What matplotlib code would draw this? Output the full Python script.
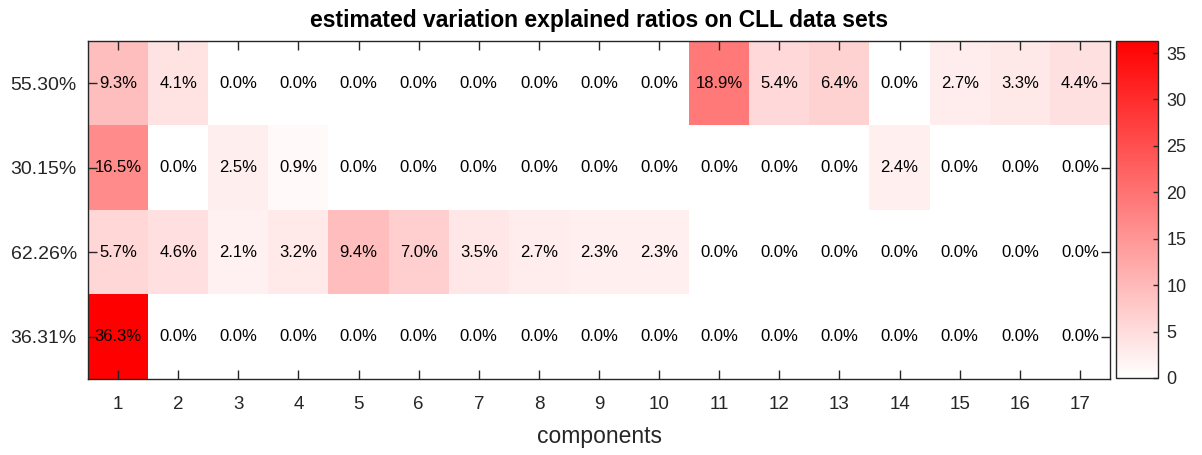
import matplotlib
matplotlib.use("Agg")
import matplotlib.pyplot as plt
import numpy as np
from matplotlib.colors import LinearSegmentedColormap

plt.rcParams['font.family'] = ['Liberation Sans', 'DejaVu Sans']

# data (percent explained per component)
row_labels = ["55.30%", "30.15%", "62.26%", "36.31%"]
components = list(range(1, 18))
row1 = [9.3, 4.1, 0.0, 0.0, 0.0, 0.0, 0.0, 0.0, 0.0, 0.0, 18.9, 5.4, 6.4, 0.0, 2.7, 3.3, 4.4]
row2 = [16.5, 0.0, 2.5, 0.9, 0.0, 0.0, 0.0, 0.0, 0.0, 0.0, 0.0, 0.0, 0.0, 2.4, 0.0, 0.0, 0.0]
row3 = [5.7, 4.6, 2.1, 3.2, 9.4, 7.0, 3.5, 2.7, 2.3, 2.3, 0.0, 0.0, 0.0, 0.0, 0.0, 0.0, 0.0]
row4 = [36.3, 0.0, 0.0, 0.0, 0.0, 0.0, 0.0, 0.0, 0.0, 0.0, 0.0, 0.0, 0.0, 0.0, 0.0, 0.0, 0.0]
cbar_ticks = [0, 5, 10, 15, 20, 25, 30, 35]

vals = np.array([row1, row2, row3, row4])
edge = '#262626'

cmap = LinearSegmentedColormap.from_list('wr', ['#ffffff', '#ff0000'])

fig = plt.figure(figsize=(12.02, 4.55), dpi=100)
ax = fig.add_axes([88 / 1202, 1 - 379 / 455, 1022 / 1202, 338 / 455])
cax = fig.add_axes([1116 / 1202, 1 - 378 / 455, 42 / 1202, 337 / 455])

im = ax.imshow(vals, cmap=cmap, vmin=0, vmax=vals.max(), aspect='auto',
               interpolation='nearest',
               extent=(0.5, len(components) + 0.5, len(row_labels) + 0.5, 0.5))

for i in range(vals.shape[0]):
    for j in range(vals.shape[1]):
        ax.text(components[j], i + 1, "%.1f%%" % vals[i, j], ha='center', va='center',
                fontsize=12, color='black', zorder=5)

ax.set_xticks(components)
ax.set_xticklabels([str(c) for c in components])
ax.set_yticks(range(1, len(row_labels) + 1))
ax.set_yticklabels(row_labels)
ax.tick_params(direction='in', length=6.5, width=1, color=edge, labelcolor=edge,
               top=True, right=True)
ax.tick_params(axis='x', labelsize=13.5, pad=12)
ax.tick_params(axis='y', labelsize=14, pad=8)
for s in ax.spines.values():
    s.set_color(edge)
    s.set_linewidth(1)

ax.set_title("estimated variation explained ratios on CLL data sets",
             fontsize=16.5, fontweight='bold', pad=10)
ax.set_xlabel("components", fontsize=16.5, color=edge, labelpad=9)

cb = fig.colorbar(im, cax=cax, ticks=cbar_ticks)
cb.outline.set_edgecolor(edge)
cb.outline.set_linewidth(1)
cax.tick_params(direction='in', length=3.5, width=1, color=edge, labelcolor=edge,
                labelsize=13, pad=6)

fig.savefig("out.png", dpi=100)
